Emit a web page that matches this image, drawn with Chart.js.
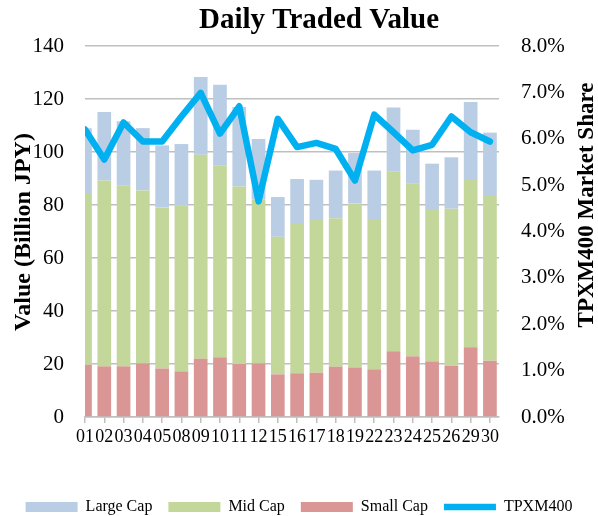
<!DOCTYPE html>
<html>
<head>
<meta charset="utf-8">
<script src="https://cdn.jsdelivr.net/npm/chart.js@4.4.1/dist/chart.umd.min.js"></script>
<style>
  html, body { margin: 0; padding: 0; background: #fff; }
  canvas { display: block; }
</style>
</head>
<body>
<canvas id="c" width="598" height="516"></canvas>
<script>
const categories = ['01','02','03','04','05','08','09','10','11','12','15','16','17','18','19','22','23','24','25','26','29','30'];
const smallCap = [19.7, 19.1, 19.1, 20.2, 18.3, 17.2, 22.0, 22.5, 20.0, 20.2, 16.1, 16.5, 16.7, 19.0, 18.7, 18.0, 24.8, 22.9, 21.0, 19.4, 26.3, 21.2];
const midCap   = [64.8, 70.1, 68.2, 65.3, 60.8, 62.7, 77.0, 72.5, 67.0, 61.8, 51.9, 56.7, 58.0, 56.0, 61.9, 56.7, 67.9, 65.1, 57.1, 59.2, 63.5, 62.2];
const largeCap = [24.5, 25.9, 24.3, 23.5, 23.4, 23.1, 29.3, 30.4, 30.0, 22.9, 15.0, 16.6, 14.8, 18.0, 19.0, 18.3, 24.1, 20.4, 17.5, 19.4, 29.1, 23.9];
const tpxmShare = [6.20, 5.55, 6.35, 5.94, 5.94, 6.48, 6.99, 6.11, 6.70, 4.65, 6.43, 5.82, 5.91, 5.78, 5.10, 6.52, 6.14, 5.75, 5.87, 6.48, 6.14, 5.94];
const valueTicks = [0, 20, 40, 60, 80, 100, 120, 140];
const shareTicks = [0, 1, 2, 3, 4, 5, 6, 7, 8];

const TITLE = 'Daily Traded Value';
const LEFT_TITLE = 'Value (Billion JPY)';
const RIGHT_TITLE = 'TPXM400 Market Share';
const FONT = '"Liberation Serif", "Times New Roman", serif';

const toXY = arr => arr.map((v, i) => ({ x: i, y: v }));

const textPlugin = {
  id: 'texts',
  afterDraw(chart) {
    const ctx = chart.ctx;
    ctx.save();
    ctx.fillStyle = '#000';
    ctx.textAlign = 'center';
    ctx.textBaseline = 'middle';
    ctx.font = 'bold 29px ' + FONT;
    ctx.fillText(TITLE, 319, 21);
    ctx.font = 'bold 24px ' + FONT;
    ctx.save();
    ctx.translate(24, 232);
    ctx.rotate(-Math.PI / 2);
    ctx.fillText(LEFT_TITLE, 0, 0);
    ctx.restore();
    ctx.font = 'bold 23px ' + FONT;
    ctx.save();
    ctx.translate(587, 205);
    ctx.rotate(-Math.PI / 2);
    ctx.fillText(RIGHT_TITLE, 0, 0);
    ctx.restore();
    ctx.restore();
  }
};

const legendRank = { 2: 0, 1: 1, 0: 2, 3: 3 };

new Chart(document.getElementById('c'), {
  type: 'bar',
  data: {
    datasets: [
      { label: 'Small Cap', data: toXY(smallCap), backgroundColor: '#D99694', borderWidth: 0, pointStyle: 'rect', clip: 0, stack: 's', barPercentage: 0.71, categoryPercentage: 1 },
      { label: 'Mid Cap', data: toXY(midCap), backgroundColor: '#C4D79B', borderWidth: 0, pointStyle: 'rect', clip: 0, stack: 's', barPercentage: 0.71, categoryPercentage: 1 },
      { label: 'Large Cap', data: toXY(largeCap), backgroundColor: '#B9CDE5', borderWidth: 0, pointStyle: 'rect', clip: 0, stack: 's', barPercentage: 0.71, categoryPercentage: 1 },
      { type: 'line', label: 'TPXM400', data: toXY(tpxmShare), yAxisID: 'y1', order: -1,
        borderColor: '#00B0F0', backgroundColor: '#00B0F0', borderWidth: 6.5, tension: 0,
        pointRadius: 0, pointHoverRadius: 0, pointStyle: 'line',
        borderJoinStyle: 'round', borderCapStyle: 'round', clip: 0, fill: false }
    ]
  },
  options: {
    responsive: false,
    animation: false,
    events: [],
    layout: { padding: { top: 46, left: 0, right: 0, bottom: -9 } },
    plugins: {
      title: { display: false },
      tooltip: { enabled: false },
      legend: {
        position: 'bottom',
        labels: {
          usePointStyle: true,
          pointStyleWidth: 52,
          boxHeight: 10,
          padding: 16,
          color: '#000',
          font: { family: FONT, size: 16 },
          sort: (a, b) => legendRank[a.datasetIndex] - legendRank[b.datasetIndex]
        }
      }
    },
    scales: {
      x: {
        type: 'linear',
        min: 0,
        max: 21.47,
        offset: false,
        stacked: true,
        afterFit: s => { s.height = 66; },
        grid: { offset: false, drawOnChartArea: false, drawTicks: true, tickLength: 6, color: '#BFBFBF', lineWidth: 1.5 },
        border: { display: true, color: '#BFBFBF', width: 1.5 },
        ticks: {
          stepSize: 1,
          autoSkip: false,
          maxRotation: 0,
          minRotation: 0,
          includeBounds: false,
          padding: 3,
          color: '#000',
          font: { family: FONT, size: 18 },
          callback: v => {
            const r = Math.round(v);
            return Math.abs(v - r) < 1e-6 && categories[r] !== undefined ? categories[r] : '';
          }
        }
      },
      y: {
        position: 'left',
        stacked: true,
        min: valueTicks[0],
        max: valueTicks[valueTicks.length - 1],
        afterFit: s => { s.width = 85; },
        afterBuildTicks: s => { s.ticks = valueTicks.map(v => ({ value: v })); },
        grid: { drawTicks: false, color: '#BFBFBF', lineWidth: 1.5 },
        border: { display: false },
        ticks: { padding: 21, color: '#000', font: { family: FONT, size: 21 } }
      },
      y1: {
        position: 'right',
        min: shareTicks[0],
        max: shareTicks[shareTicks.length - 1],
        afterFit: s => { s.width = 99; },
        afterBuildTicks: s => { s.ticks = shareTicks.map(v => ({ value: v })); },
        grid: { display: false, drawOnChartArea: false, drawTicks: false },
        border: { display: false },
        ticks: { padding: 22, color: '#000', font: { family: FONT, size: 21 }, callback: v => v.toFixed(1) + '%' }
      }
    }
  },
  plugins: [textPlugin]
});
</script>
</body>
</html>
